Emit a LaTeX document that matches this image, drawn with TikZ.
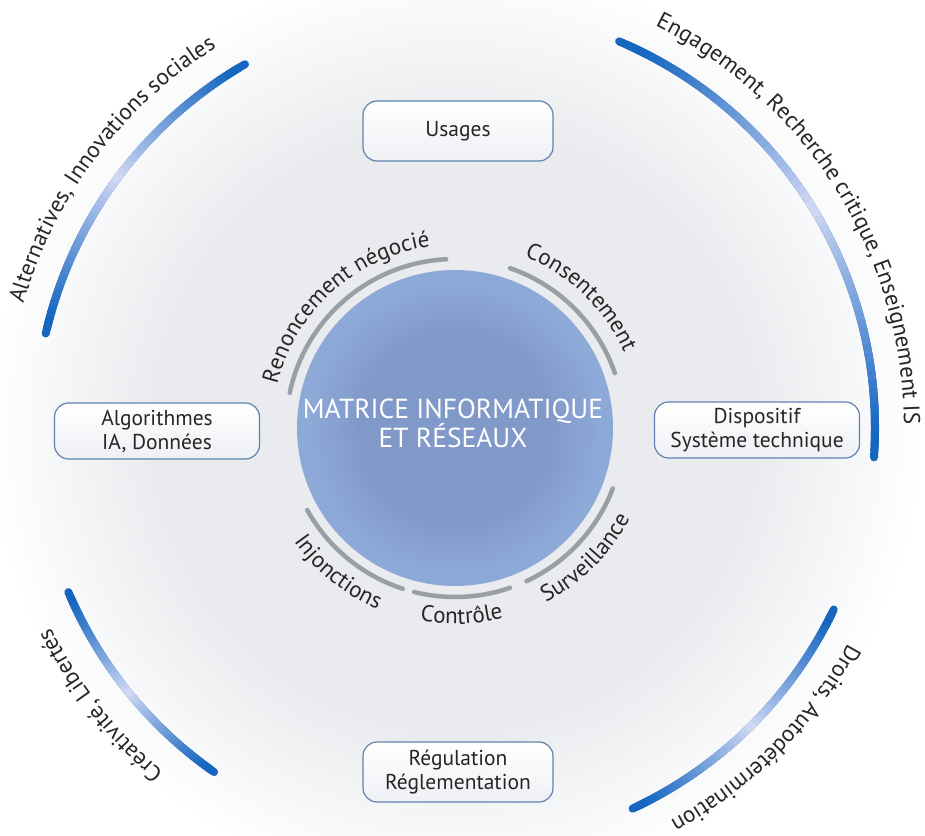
\documentclass[tikz,border=0pt]{standalone}
\usepackage{fontspec}
\setmainfont{PT Sans}
\usetikzlibrary{decorations.text}
\definecolor{arcdark}{RGB}{22,102,192}
\definecolor{arclight}{RGB}{212,218,244}
\definecolor{ringgrey}{RGB}{152,160,166}
\definecolor{circin}{RGB}{129,153,201}
\definecolor{circout}{RGB}{141,169,215}
\definecolor{bgA}{RGB}{233,235,238}
\definecolor{boxline}{RGB}{95,130,175}
\definecolor{boxbot}{RGB}{238,240,244}
\definecolor{txt}{RGB}{38,38,38}
\pgfdeclareradialshading{bgglow}{\pgfpoint{0bp}{0bp}}{color(0bp)=(bgA); color(12.5bp)=(bgA); color(19.5bp)=(white); color(50bp)=(white)}
\pgfdeclareradialshading{circshade}{\pgfpoint{0bp}{0bp}}{color(0bp)=(circin); color(15bp)=(circin); color(23bp)=(circout); color(50bp)=(circout)}
\newcommand\gradarc[2]{%
  \draw[arcdark, line width=8, line cap=round] (#1:420) arc[start angle=#1, end angle=#2, radius=420];
  \foreach \k in {1,...,58}{%
    \pgfmathsetmacro\sa{#1+(#2-#1)*\k/60}%
    \pgfmathsetmacro\ea{#1+(#2-#1)*(\k+1.3)/60}%
    \pgfmathsetmacro\tt{(\k+0.5)/60}%
    \pgfmathsetmacro\pp{min(100,110*abs(2*\tt-1)^0.9)}%
    \draw[line width=8, color=arcdark!\pp!arclight] (\sa:420) arc[start angle=\sa, end angle=\ea, radius=420];
  }}
\begin{document}
\begin{tikzpicture}[x=1pt,y=1pt,
  arctext/.style={decorate, decoration={text along path, text align=center, text color=txt,
     text={|\fontsize{23}{27}\selectfont|#1}}},
  ringarc/.style={draw=ringgrey, line width=4.5, line cap=round},
  roundbox/.style={draw=boxline, line width=1.2, rounded corners=14, top color=white,
     bottom color=boxbot, minimum height=58, align=center, text=txt,
     font=\fontsize{21.5}{24}\selectfont, inner sep=0}]
\useasboundingbox (0,0) rectangle (925,835);
\fill[white] (0,0) rectangle (925,835);
\shade[shading=bgglow] (455,407) circle[radius=600];
\coordinate (C) at (455,407);
\begin{scope}[shift={(C)}]
  % outer gradient arcs
  \gradarc{120}{167}
  \gradarc{67}{-4}
  \gradarc{203}{235}
  \gradarc{-25.6}{-65}
  % outer labels
  \path[arctext={Alternatives, Innovations sociales}] (223:449) arc[start angle=223, end angle=63, radius=449];
  \path[arctext={Engagement, Recherche critique, Enseignement IS}] (112:449) arc[start angle=112, end angle=-48, radius=449];
  \path[arctext={Créativité, Libertés}] (298:451) arc[start angle=298, end angle=138, radius=451];
  \path[arctext={Droits, Autodétermination}] (35:448) arc[start angle=35, end angle=-125, radius=448];
  % grey ring arcs
  \draw[ringarc] (168:169) arc[start angle=168, end angle=93, radius=169];
  \draw[ringarc] (71:169) arc[start angle=71, end angle=19, radius=169];
  \draw[ringarc] (-21:169) arc[start angle=-21, end angle=-65, radius=169];
  \draw[ringarc] (-71:169) arc[start angle=-71, end angle=-104, radius=169];
  \draw[ringarc] (-108:169) arc[start angle=-108, end angle=-151, radius=169];
  % inner labels
  \path[arctext={Renoncement négocié}] (202:183) arc[start angle=202, end angle=62, radius=183];
  \path[arctext={Consentement}] (116:185) arc[start angle=116, end angle=-24, radius=185];
  \path[arctext={Surveillance}] (-115:197) arc[start angle=-115, end angle=25, radius=197];
  \path[arctext={Contrôle}] (-158:196) arc[start angle=-158, end angle=-18, radius=196];
  \path[arctext={Injonctions}] (-199:197) arc[start angle=-199, end angle=-59, radius=197];
\end{scope}
\node[circle, minimum size=316, inner sep=0, shade, shading=circshade] (core) at (C) {};
\node[text=white, align=center, font=\fontsize{27.5}{29}\selectfont] (title) at (453,412) {MATRICE INFORMATIQUE\\ET RÉSEAUX};
\node[roundbox, minimum width=190, minimum height=60] (usages) at (458,704) {Usages};
\node[roundbox, minimum width=205, minimum height=56] (algo) at (157,404) {Algorithmes\\IA, Données};
\node[roundbox, minimum width=205, minimum height=56] (dispo) at (757,405) {Dispositif\\Système technique};
\node[roundbox, minimum width=190, minimum height=60] (regul) at (458,63) {Régulation\\Réglementation};
\end{tikzpicture}
\end{document}
